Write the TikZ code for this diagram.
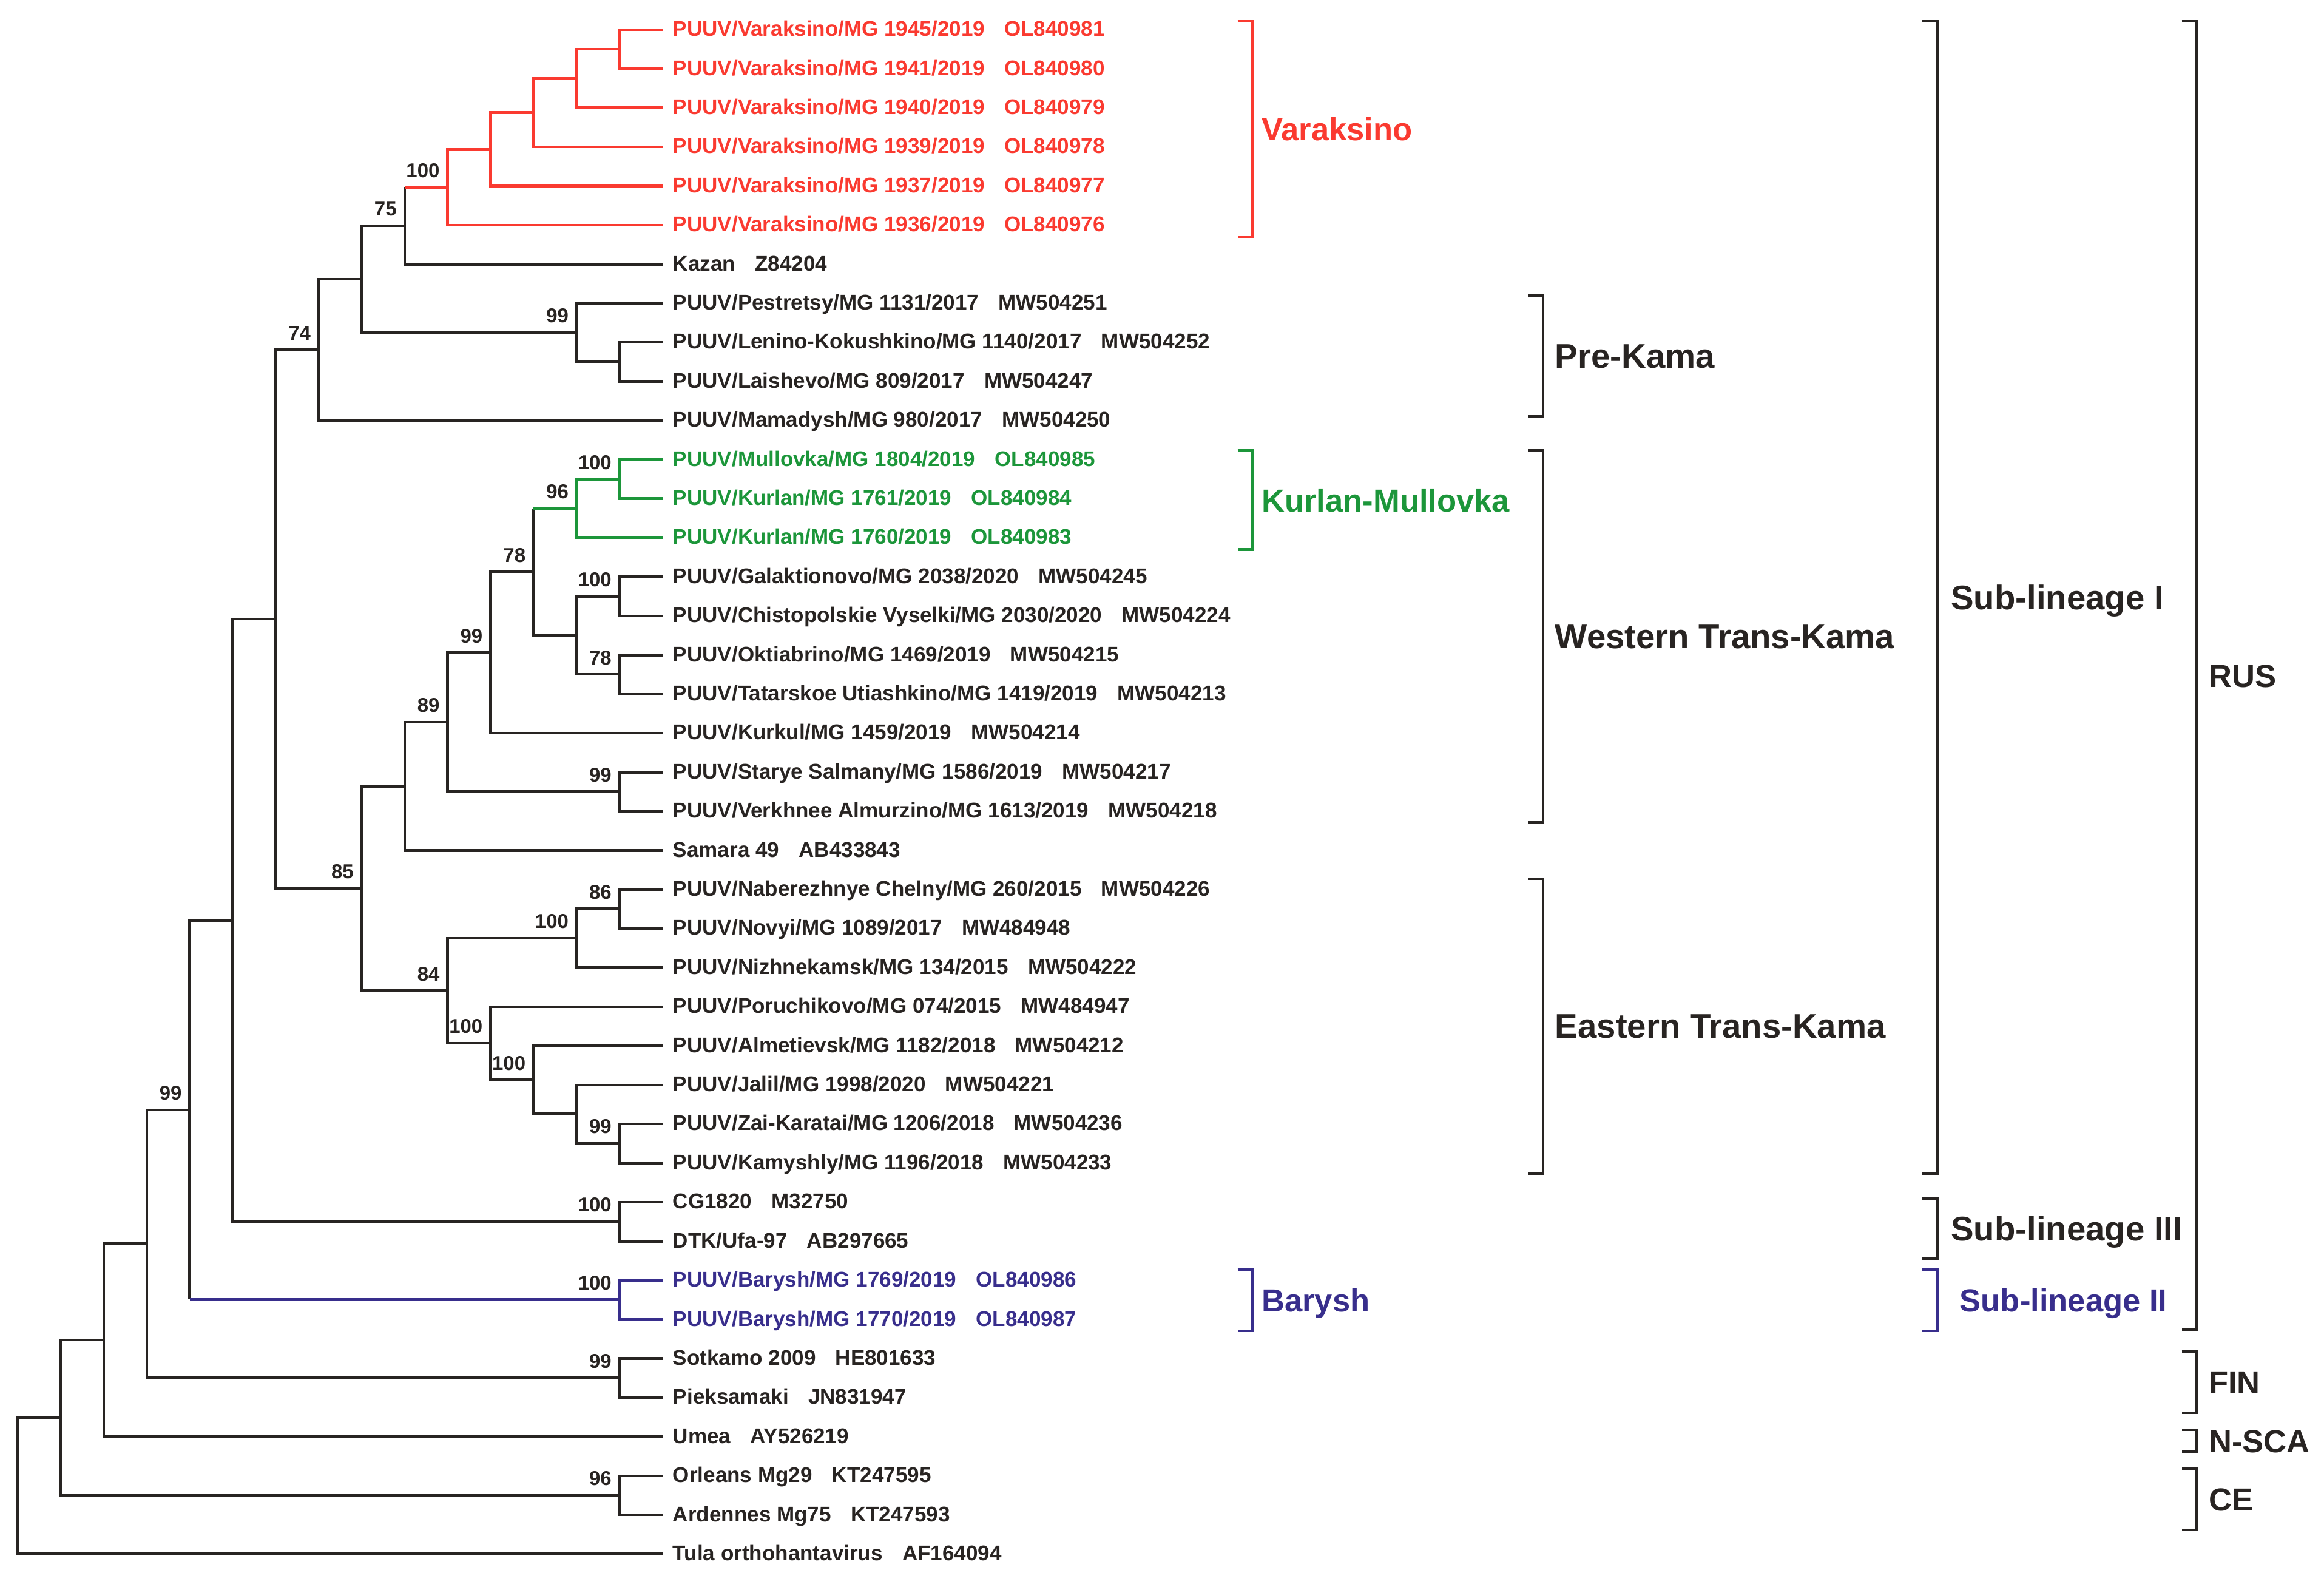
\documentclass[tikz,border=0pt]{standalone}
\usepackage{fontspec}
\setmainfont{Liberation Sans}
\usetikzlibrary{positioning}

\definecolor{vred}{RGB}{250,58,48}
\definecolor{kgreen}{RGB}{28,150,58}
\definecolor{bblue}{RGB}{56,46,140}
\definecolor{ink}{RGB}{40,36,34}

% accession number after the strain name
\newcommand{\gbid}[1]{\hspace{3.3mm}#1}

\begin{document}
\begin{tikzpicture}[
        x=0.025cm, y=-0.025cm,
        leaf/.style = {anchor=west, inner xsep=1.75mm, inner ysep=0pt, outer sep=0pt, text height=7.3pt, text depth=1pt, text=ink, font=\fontsize{10.2}{12}\selectfont\bfseries},
        under/.style = {below=6.59mm of #1.west, anchor=west},
        bs/.style = {inner sep=0pt, outer sep=0pt, text=ink, font=\fontsize{9.6}{11}\selectfont\bfseries},
        branch/.style = {draw=ink, line width=1.3pt},
        redbranch/.style = {branch, draw=vred},
        greenbranch/.style = {branch, draw=kgreen},
        bluebranch/.style = {branch, draw=bblue},
        bracket/.style = {draw=ink, line width=1.3pt},
        clade/.style = {anchor=west, inner sep=0pt, text height=11.6pt, text depth=0pt, text=ink, font=\fontsize{16.4}{19}\selectfont\bfseries},
        cladesm/.style = {clade, text height=11pt, font=\fontsize{15.3}{18}\selectfont\bfseries}
    ]
    \useasboundingbox (0,0) rectangle (1568,1061);

    % leaves
    \node[leaf, text=vred] (l01) at (447,20) {PUUV/Varaksino/MG 1945/2019\gbid{OL840981}};
    \node[leaf, under=l01, text=vred] (l02) {PUUV/Varaksino/MG 1941/2019\gbid{OL840980}};
    \node[leaf, under=l02, text=vred] (l03) {PUUV/Varaksino/MG 1940/2019\gbid{OL840979}};
    \node[leaf, under=l03, text=vred] (l04) {PUUV/Varaksino/MG 1939/2019\gbid{OL840978}};
    \node[leaf, under=l04, text=vred] (l05) {PUUV/Varaksino/MG 1937/2019\gbid{OL840977}};
    \node[leaf, under=l05, text=vred] (l06) {PUUV/Varaksino/MG 1936/2019\gbid{OL840976}};
    \node[leaf, under=l06] (l07) {Kazan\gbid{Z84204}};
    \node[leaf, under=l07] (l08) {PUUV/Pestretsy/MG 1131/2017\gbid{MW504251}};
    \node[leaf, under=l08] (l09) {PUUV/Lenino-Kokushkino/MG 1140/2017\gbid{MW504252}};
    \node[leaf, under=l09] (l10) {PUUV/Laishevo/MG 809/2017\gbid{MW504247}};
    \node[leaf, under=l10] (l11) {PUUV/Mamadysh/MG 980/2017\gbid{MW504250}};
    \node[leaf, under=l11, text=kgreen] (l12) {PUUV/Mullovka/MG 1804/2019\gbid{OL840985}};
    \node[leaf, under=l12, text=kgreen] (l13) {PUUV/Kurlan/MG 1761/2019\gbid{OL840984}};
    \node[leaf, under=l13, text=kgreen] (l14) {PUUV/Kurlan/MG 1760/2019\gbid{OL840983}};
    \node[leaf, under=l14] (l15) {PUUV/Galaktionovo/MG 2038/2020\gbid{MW504245}};
    \node[leaf, under=l15] (l16) {PUUV/Chistopolskie Vyselki/MG 2030/2020\gbid{MW504224}};
    \node[leaf, under=l16] (l17) {PUUV/Oktiabrino/MG 1469/2019\gbid{MW504215}};
    \node[leaf, under=l17] (l18) {PUUV/Tatarskoe Utiashkino/MG 1419/2019\gbid{MW504213}};
    \node[leaf, under=l18] (l19) {PUUV/Kurkul/MG 1459/2019\gbid{MW504214}};
    \node[leaf, under=l19] (l20) {PUUV/Starye Salmany/MG 1586/2019\gbid{MW504217}};
    \node[leaf, under=l20] (l21) {PUUV/Verkhnee Almurzino/MG 1613/2019\gbid{MW504218}};
    \node[leaf, under=l21] (l22) {Samara 49\gbid{AB433843}};
    \node[leaf, under=l22] (l23) {PUUV/Naberezhnye Chelny/MG 260/2015\gbid{MW504226}};
    \node[leaf, under=l23] (l24) {PUUV/Novyi/MG 1089/2017\gbid{MW484948}};
    \node[leaf, under=l24] (l25) {PUUV/Nizhnekamsk/MG 134/2015\gbid{MW504222}};
    \node[leaf, under=l25] (l26) {PUUV/Poruchikovo/MG 074/2015\gbid{MW484947}};
    \node[leaf, under=l26] (l27) {PUUV/Almetievsk/MG 1182/2018\gbid{MW504212}};
    \node[leaf, under=l27] (l28) {PUUV/Jalil/MG 1998/2020\gbid{MW504221}};
    \node[leaf, under=l28] (l29) {PUUV/Zai-Karatai/MG 1206/2018\gbid{MW504236}};
    \node[leaf, under=l29] (l30) {PUUV/Kamyshly/MG 1196/2018\gbid{MW504233}};
    \node[leaf, under=l30] (l31) {CG1820\gbid{M32750}};
    \node[leaf, under=l31] (l32) {DTK/Ufa-97\gbid{AB297665}};
    \node[leaf, under=l32, text=bblue] (l33) {PUUV/Barysh/MG 1769/2019\gbid{OL840986}};
    \node[leaf, under=l33, text=bblue] (l34) {PUUV/Barysh/MG 1770/2019\gbid{OL840987}};
    \node[leaf, under=l34] (l35) {Sotkamo 2009\gbid{HE801633}};
    \node[leaf, under=l35] (l36) {Pieksamaki\gbid{JN831947}};
    \node[leaf, under=l36] (l37) {Umea\gbid{AY526219}};
    \node[leaf, under=l37] (l38) {Orleans Mg29\gbid{KT247595}};
    \node[leaf, under=l38] (l39) {Ardennes Mg75\gbid{KT247593}};
    \node[leaf, under=l39] (l40) {Tula orthohantavirus\gbid{AF164094}};

    % internal nodes
    \coordinate (va1) at (418,33.18);
    \coordinate (va2) at (389,52.95);
    \coordinate (va3) at (360,76.02);
    \coordinate (va4) at (331,100.73);
    \coordinate (va5) at (302,126.26);
    \coordinate (n75) at (273,152.21);
    \coordinate (pk2) at (418,244.06);
    \coordinate (pk1) at (389,224.29);
    \coordinate (n244) at (244,188.25);
    \coordinate (n74) at (215,235.93);
    \coordinate (km2) at (418,323.14);
    \coordinate (km1) at (389,342.91);
    \coordinate (ga) at (418,402.22);
    \coordinate (ok) at (418,454.94);
    \coordinate (wt3) at (389,428.58);
    \coordinate (n78) at (360,385.75);
    \coordinate (n99a) at (331,440.11);
    \coordinate (sv) at (418,534.02);
    \coordinate (n89) at (302,487.07);
    \coordinate (n273) at (273,530.31);
    \coordinate (nb) at (418,613.10);
    \coordinate (nb2) at (389,632.87);
    \coordinate (zk) at (418,771.26);
    \coordinate (jz) at (389,751.49);
    \coordinate (al) at (360,728.43);
    \coordinate (po) at (331,703.71);
    \coordinate (n84) at (302,668.29);
    \coordinate (n85) at (244,599.30);
    \coordinate (n186) at (186,417.61);
    \coordinate (cg) at (418,823.98);
    \coordinate (n157) at (157,620.80);
    \coordinate (ba) at (418,876.70);
    \coordinate (n128) at (128,748.75);
    \coordinate (fi) at (418,929.42);
    \coordinate (n99) at (99,839.08);
    \coordinate (n70) at (70,904.02);
    \coordinate (ce) at (418,1008.50);
    \coordinate (n41) at (41,956.26);
    \coordinate (root) at (12,1002.15);

    % branches
    \draw[redbranch] (l01) -| (va1) |- (l02);
    \draw[redbranch] (va1) -| (va2) |- (l03);
    \draw[redbranch] (va2) -| (va3) |- (l04);
    \draw[redbranch] (va3) -| (va4) |- (l05);
    \draw[redbranch] (va4) -| (va5) |- (l06);
    \draw[branch] (n75 |- va5) -- (n75) |- (l07);
    \draw[redbranch] (n75 |- va5) -- (va5);
    \draw[branch] (l09) -| (pk2) |- (l10);
    \draw[branch] (l08) -| (pk1) |- (pk2);
    \draw[branch] (n75) -| (n244) |- (pk1);
    \draw[branch] (n244) -| (n74) |- (l11);
    \draw[greenbranch] (l12) -| (km2) |- (l13);
    \draw[greenbranch] (km2) -| (km1) |- (l14);
    \draw[branch] (l15) -| (ga) |- (l16);
    \draw[branch] (l17) -| (ok) |- (l18);
    \draw[branch] (ga) -| (wt3) |- (ok);
    \draw[branch] (n78 |- km1) -- (n78) |- (wt3);
    \draw[greenbranch] (n78 |- km1) -- (km1);
    \draw[branch] (n78) -| (n99a) |- (l19);
    \draw[branch] (l20) -| (sv) |- (l21);
    \draw[branch] (n99a) -| (n89) |- (sv);
    \draw[branch] (n89) -| (n273) |- (l22);
    \draw[branch] (l23) -| (nb) |- (l24);
    \draw[branch] (nb) -| (nb2) |- (l25);
    \draw[branch] (l29) -| (zk) |- (l30);
    \draw[branch] (l28) -| (jz) |- (zk);
    \draw[branch] (l27) -| (al) |- (jz);
    \draw[branch] (l26) -| (po) |- (al);
    \draw[branch] (nb2) -| (n84) |- (po);
    \draw[branch] (n273) -| (n85) |- (n84);
    \draw[branch] (n74) -| (n186) |- (n85);
    \draw[branch] (l31) -| (cg) |- (l32);
    \draw[branch] (n186) -| (n157) |- (cg);
    \draw[bluebranch] (l33) -| (ba) |- (l34);
    \draw[branch] (n157) -| (n128) -- (n128 |- ba);
    \draw[bluebranch] (n128 |- ba) -- (ba);
    \draw[branch] (l35) -| (fi) |- (l36);
    \draw[branch] (n128) -| (n99) |- (fi);
    \draw[branch] (n99) -| (n70) |- (l37);
    \draw[branch] (l38) -| (ce) |- (l39);
    \draw[branch] (n70) -| (n41) |- (ce);
    \draw[branch] (n41) -| (root) |- (l40);

    % bootstrap values
    \node[bs, above left=1.6mm and 1.35mm of va5] (b-va5) {100};
    \node[bs, above left=1.6mm and 1.35mm of n75] (b-n75) {75};
    \node[bs, above left=1.6mm and 1.35mm of n74] (b-n74) {74};
    \node[bs, above left=1.6mm and 1.35mm of pk1] (b-pk1) {99};
    \node[bs, above left=1.6mm and 1.35mm of km2] (b-km2) {100};
    \node[bs, above left=1.6mm and 1.35mm of km1] (b-km1) {96};
    \node[bs, above left=1.6mm and 1.35mm of n78] (b-n78) {78};
    \node[bs, above left=1.6mm and 1.35mm of ga] (b-ga) {100};
    \node[bs, above left=1.6mm and 1.35mm of ok] (b-ok) {78};
    \node[bs, above left=1.6mm and 1.35mm of n99a] (b-n99a) {99};
    \node[bs, above left=1.6mm and 1.35mm of n89] (b-n89) {89};
    \node[bs, above left=1.6mm and 1.35mm of sv] (b-sv) {99};
    \node[bs, above left=1.6mm and 1.35mm of n85] (b-n85) {85};
    \node[bs, above left=1.6mm and 1.35mm of nb] (b-nb) {86};
    \node[bs, above left=1.6mm and 1.35mm of nb2] (b-nb2) {100};
    \node[bs, above left=1.6mm and 1.35mm of n84] (b-n84) {84};
    \node[bs, above left=1.6mm and 1.35mm of po] (b-po) {100};
    \node[bs, above left=1.6mm and 1.35mm of al] (b-al) {100};
    \node[bs, above left=1.6mm and 1.35mm of zk] (b-zk) {99};
    \node[bs, above left=1.6mm and 1.35mm of cg] (b-cg) {100};
    \node[bs, above left=1.6mm and 1.35mm of ba] (b-ba) {100};
    \node[bs, above left=1.6mm and 1.35mm of n128] (b-n128) {99};
    \node[bs, above left=1.6mm and 1.35mm of fi] (b-fi) {99};
    \node[bs, above left=1.6mm and 1.35mm of ce] (b-ce) {96};

    % clade brackets
    \draw[bracket, draw=vred] (835,14.3) -- (845,14.3) -- (845,160) -- (835,160);
    \draw[bracket, draw=kgreen] (835,304) -- (845,304) -- (845,370.7) -- (835,370.7);
    \draw[bracket, draw=bblue] (835,856.7) -- (845,856.7) -- (845,897.8) -- (835,897.8);
    \draw[bracket] (1031,199.6) -- (1041,199.6) -- (1041,281) -- (1031,281);
    \draw[bracket] (1031,303.8) -- (1041,303.8) -- (1041,555) -- (1031,555);
    \draw[bracket] (1031,592.8) -- (1041,592.8) -- (1041,791.6) -- (1031,791.6);
    \draw[bracket] (1297,14.3) -- (1307,14.3) -- (1307,791.6) -- (1297,791.6);
    \draw[bracket] (1297,808.5) -- (1307,808.5) -- (1307,849) -- (1297,849);
    \draw[bracket, draw=bblue] (1297,856.7) -- (1307,856.7) -- (1307,897.8) -- (1297,897.8);
    \draw[bracket] (1472,14.3) -- (1482,14.3) -- (1482,897) -- (1472,897);
    \draw[bracket] (1472,912) -- (1482,912) -- (1482,953) -- (1472,953);
    \draw[bracket] (1472,964.5) -- (1482,964.5) -- (1482,979.4) -- (1472,979.4);
    \draw[bracket] (1472,990.5) -- (1482,990.5) -- (1482,1032) -- (1472,1032);

    % clade names
    \node[cladesm, text=vred] (varaksino) at (851,87.2) {Varaksino};
    \node[cladesm, text=kgreen] (kurlan) at (851,337.4) {Kurlan-Mullovka};
    \node[cladesm, text=bblue] (barysh) at (851,877.3) {Barysh};
    \node[clade] (prekama) at (1049,240.3) {Pre-Kama};
    \node[clade] (western) at (1049,429.4) {Western Trans-Kama};
    \node[clade] (eastern) at (1049,692.2) {Eastern Trans-Kama};
    \node[clade] (sub1) at (1316,403) {Sub-lineage I};
    \node[clade] (sub3) at (1316,828.8) {Sub-lineage III};
    \node[cladesm, text=bblue] (sub2) at (1322,877.3) {Sub-lineage II};
    \node[cladesm] (rus) at (1490,455.7) {RUS};
    \node[cladesm] (fin) at (1490,932.5) {FIN};
    \node[cladesm] (nsca) at (1490,972) {N-SCA};
    \node[cladesm] (celab) at (1490,1011.3) {CE};
\end{tikzpicture}
\end{document}
